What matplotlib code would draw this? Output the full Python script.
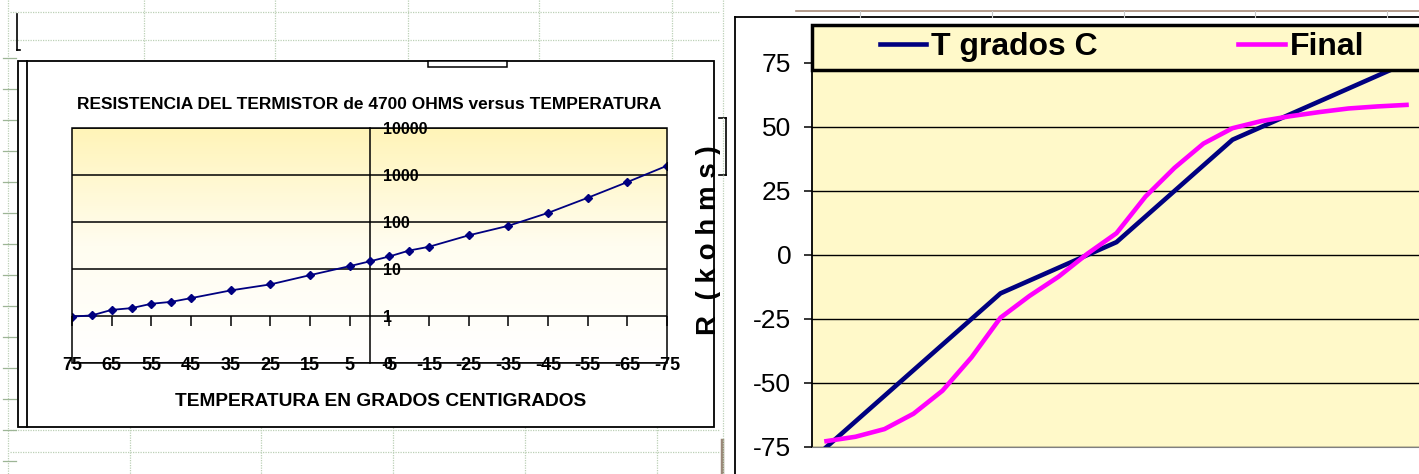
import numpy as np
import matplotlib.pyplot as plt
from matplotlib.colors import LinearSegmentedColormap
from matplotlib.patches import Rectangle
from matplotlib.lines import Line2D

# left chart: thermistor 4700 ohm, resistance (kohm) vs temperature (C)
temp_c = [75, 70, 65, 60, 55, 50, 45, 35, 25, 15, 5, 0,
          -5, -10, -15, -25, -35, -45, -55, -65, -75]
r_kohm = [0.97, 1.03, 1.35, 1.47, 1.82, 2.0, 2.4, 3.5, 4.7, 7.4, 11.5, 14.5,
          18.5, 24.7, 29.7, 52, 83, 156, 327, 707, 1574]
x_ticks = [75, 65, 55, 45, 35, 25, 15, 5, -5, -15, -25, -35, -45, -55, -65, -75]
r_ticks = [0.1, 1, 10, 100, 1000, 10000]
r_tick_labels = ['0', '1', '10', '100', '1000', '10000']

# right chart: temperature series vs fitted "Final"
t_grados = [-75, -65, -55, -45, -35, -25, -15, -10, -5, 0, 5,
            15, 25, 35, 45, 50, 55, 60, 65, 70, 75]
t_final = [-72.7, -71, -68, -62, -53, -40, -24.5, -16, -8.5, 0.5, 8.5,
           22.8, 34, 43.5, 49.5, 52.3, 54.2, 55.8, 57.2, 58, 58.6]
t_ticks = [-75, -50, -25, 0, 25, 50, 75]

W, H = 1419, 474
navy = '#000080'
magenta = '#FF00FF'
yellow = '#FFF9C9'
sheet_grid = '#BCD0B6'
plt.rcParams['font.family'] = ['Liberation Sans', 'DejaVu Sans']
plt.rcParams['axes.unicode_minus'] = False

fig = plt.figure(figsize=(W / 100, H / 100), dpi=100)


def box(x0, y0, x1, y1):
    # pixel box, origin top-left -> figure rect
    return [x0 / W, 1 - y1 / H, (x1 - x0) / W, (y1 - y0) / H]


def px_line(xs, ys, **kw):
    fig.add_artist(Line2D([x / W for x in xs], [1 - y / H for y in ys],
                          transform=fig.transFigure, **kw))


# spreadsheet cells behind the charts
dots = dict(color=sheet_grid, lw=0.9, ls=(0, (1, 1)), zorder=0.1)
for y in [12, 40]:
    px_line([10, 720], [y, y], **dots)
for x in [144, 275, 408, 539, 672]:
    px_line([x, x], [0, 60], **dots)
for y in [430, 452]:
    px_line([10, 720], [y, y], **dots)
for x in [130, 261, 393, 525, 657]:
    px_line([x, x], [427, 474], **dots)
px_line([8, 8], [0, 474], **dots)
for y in range(58, 474, 31):
    px_line([3, 16], [y, y], color='#9DB596', lw=0.9, zorder=0.1)
px_line([17, 17], [14, 50], color='black', lw=1.2)
px_line([17, 20], [50, 50], color='black', lw=1.2)

# left chart frame
fig.add_artist(Rectangle((18 / W, 1 - 427 / H), (714 - 18) / W, (427 - 61) / H,
                         transform=fig.transFigure, fill=False, ec='black', lw=1.3, zorder=2))
px_line([27, 27], [61, 427], color='black', lw=1.3, zorder=2)
fig.add_artist(Rectangle((428 / W, 1 - 67 / H), 79 / W, 6 / H, transform=fig.transFigure,
                         fc='white', ec='black', lw=1.1, zorder=2))

# gradient fill of the plot area
ax_bg = fig.add_axes(box(72, 128, 667, 363), zorder=0.5)
grad = np.linspace(1, 0, 256).reshape(-1, 1)
cmap = LinearSegmentedColormap.from_list('xlfill', ['#FFFFFF', '#FFFDF0', '#FFF4B8'])
ax_bg.imshow(grad, cmap=cmap, aspect='auto', extent=[0, 1, 0, 1], vmin=0, vmax=1)
ax_bg.axis('off')

ax = fig.add_axes(box(72, 128, 667, 363), zorder=1)
ax.patch.set_alpha(0)
ax.set_yscale('log')
ax.plot(temp_c, r_kohm, color=navy, lw=1.3, marker='D', ms=4.5, zorder=4)
ax.set_xlim(75, -75)
ax.set_ylim(0.1, 10000)
ax.set_yticks(r_ticks, r_tick_labels)
ax.minorticks_off()
ax.set_xticks(x_ticks, [str(t) for t in x_ticks])
ax.yaxis.grid(True, color='black', lw=1.1)
for s in ['top', 'right', 'bottom']:
    ax.spines[s].set_visible(False)
ax.spines['left'].set_position(('data', 0))
ax.spines['left'].set_linewidth(1.1)
ax.add_patch(Rectangle((0, 0), 1, 1, transform=ax.transAxes, fill=False,
                       ec='black', lw=1.1, clip_on=False, zorder=5))
# x axis drawn across the value 1 with its tick marks
ax.vlines(x_ticks, 0.2 - 10 / 235, 0.2, transform=ax.get_xaxis_transform(),
          color='black', lw=1.1, clip_on=False, zorder=5)
ax.tick_params(axis='y', length=0, pad=-10, labelsize=11.5)
ax.tick_params(axis='x', length=0, pad=-4, labelsize=13)
plt.setp(ax.get_yticklabels(), ha='left', fontweight='bold')
plt.setp(ax.get_xticklabels(), fontweight='bold')
ax.set_title('RESISTENCIA DEL TERMISTOR de 4700 OHMS versus TEMPERATURA',
             fontsize=12.5, fontweight='bold', pad=14)
ax.set_xlabel('TEMPERATURA EN GRADOS CENTIGRADOS', fontsize=13.8,
              fontweight='bold', labelpad=13)
ax.xaxis.label.set_x((381 - 72) / 595)
fig.text(709 / W, 1 - 240 / H, 'R  ( k o h m s )', rotation=90, ha='center', va='center',
         fontsize=20, fontweight='bold', zorder=3)

# right chart area covers the spreadsheet on the right
fig.add_artist(Rectangle((720 / W, 0), (W - 720) / W, 1, transform=fig.transFigure,
                         fc='white', ec='none', zorder=5))
px_line([735, 735], [17, 474], color='black', lw=1.3, zorder=6)
px_line([735, W], [17, 17], color='black', lw=1.3, zorder=6)
px_line([796, W], [11, 11], color='#A58A78', lw=1.2, zorder=6)
for x in [860, 992, 1124, 1255, 1387]:
    px_line([x, x], [11, 17], color='#C8C8C8', lw=0.8, zorder=6)
px_line([726, 726], [118, 175], color='black', lw=1.2, zorder=6)
px_line([719, 726], [118, 118], color='black', lw=1.2, zorder=6)
px_line([719, 726], [175, 175], color='black', lw=1.2, zorder=6)
px_line([722, 722], [440, 474], color='#9A8878', lw=2.5, zorder=6)
px_line([723, 723], [0, 474], **dict(dots, zorder=6))

ax2 = fig.add_axes(box(812, 25, 1421, 447), zorder=10)
ax2.set_facecolor(yellow)
cats = range(len(t_grados))
ax2.plot(cats, t_grados, color=navy, lw=3.3, label='T grados C')
ax2.plot(cats, t_final, color=magenta, lw=3.3, label='Final')
ax2.set_xlim(-0.5, len(t_grados) - 0.5)
ax2.set_ylim(-75, 89.8)
ax2.set_yticks(t_ticks)
ax2.set_xticks([])
ax2.yaxis.grid(True, color='black', lw=1.0)
ax2.set_axisbelow(True)
ax2.tick_params(axis='y', length=6, width=1.1, pad=9, labelsize=19)
for s in ['top', 'right']:
    ax2.spines[s].set_visible(False)
ax2.spines['left'].set_linewidth(1.3)
ax2.spines['bottom'].set_color('#808080')

ax2.add_patch(Rectangle((0, (447 - 70) / 422), 1, 45 / 422, transform=ax2.transAxes,
                        fc=yellow, ec='black', lw=2.5, zorder=5, clip_on=False))
leg = ax2.legend(loc='center left', bbox_to_anchor=((880 - 812) / 609, (447 - 47) / 422),
                 ncol=2, frameon=False, borderpad=0, borderaxespad=0,
                 handlelength=1.45, handletextpad=0.15, columnspacing=4.4,
                 prop=dict(weight='bold', size=23))
leg.set_zorder(6)

fig.savefig('out.png', dpi=100)
